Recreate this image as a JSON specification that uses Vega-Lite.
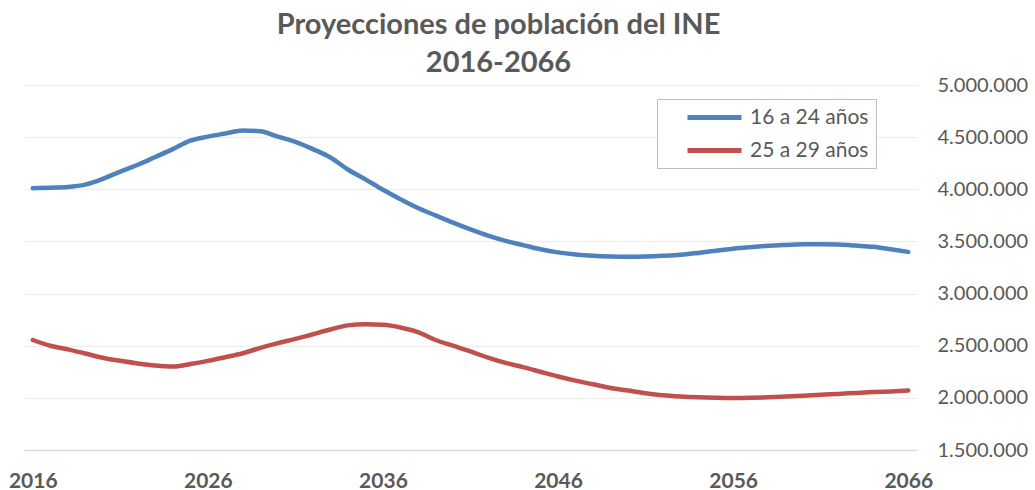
{
  "$schema": "https://vega.github.io/schema/vega-lite/v6.json",
  "width": 893,
  "height": 365,
  "autosize": {"type": "none"},
  "padding": {"left": 24, "top": 85, "right": 118, "bottom": 40},
  "background": "white",
  "title": {
    "text": ["Proyecciones de población del INE", "2016-2066"],
    "font": "Lato",
    "fontSize": 29,
    "fontWeight": "bold",
    "color": "#595959",
    "anchor": "middle",
    "frame": "group",
    "dx": 28,
    "lineHeight": 38,
    "offset": -3
  },
  "config": {
    "locale": {"number": {"decimal": ",", "thousands": ".", "grouping": [3], "currency": ["", " €"]}},
    "view": {"stroke": null},
    "font": "Lato"
  },
  "data": {
    "values": [
      {"year": 2016, "serie": "16 a 24 años", "valor": 4010000},
      {"year": 2017, "serie": "16 a 24 años", "valor": 4015000},
      {"year": 2018, "serie": "16 a 24 años", "valor": 4022000},
      {"year": 2019, "serie": "16 a 24 años", "valor": 4045000},
      {"year": 2020, "serie": "16 a 24 años", "valor": 4100000},
      {"year": 2021, "serie": "16 a 24 años", "valor": 4170000},
      {"year": 2022, "serie": "16 a 24 años", "valor": 4235000},
      {"year": 2023, "serie": "16 a 24 años", "valor": 4310000},
      {"year": 2024, "serie": "16 a 24 años", "valor": 4385000},
      {"year": 2025, "serie": "16 a 24 años", "valor": 4466000},
      {"year": 2026, "serie": "16 a 24 años", "valor": 4505000},
      {"year": 2027, "serie": "16 a 24 años", "valor": 4535000},
      {"year": 2028, "serie": "16 a 24 años", "valor": 4564000},
      {"year": 2029, "serie": "16 a 24 años", "valor": 4556000},
      {"year": 2030, "serie": "16 a 24 años", "valor": 4505000},
      {"year": 2031, "serie": "16 a 24 años", "valor": 4455000},
      {"year": 2032, "serie": "16 a 24 años", "valor": 4385000},
      {"year": 2033, "serie": "16 a 24 años", "valor": 4305000},
      {"year": 2034, "serie": "16 a 24 años", "valor": 4190000},
      {"year": 2035, "serie": "16 a 24 años", "valor": 4095000},
      {"year": 2036, "serie": "16 a 24 años", "valor": 3995000},
      {"year": 2037, "serie": "16 a 24 años", "valor": 3905000},
      {"year": 2038, "serie": "16 a 24 años", "valor": 3820000},
      {"year": 2039, "serie": "16 a 24 años", "valor": 3750000},
      {"year": 2040, "serie": "16 a 24 años", "valor": 3680000},
      {"year": 2041, "serie": "16 a 24 años", "valor": 3615000},
      {"year": 2042, "serie": "16 a 24 años", "valor": 3555000},
      {"year": 2043, "serie": "16 a 24 años", "valor": 3505000},
      {"year": 2044, "serie": "16 a 24 años", "valor": 3465000},
      {"year": 2045, "serie": "16 a 24 años", "valor": 3425000},
      {"year": 2046, "serie": "16 a 24 años", "valor": 3395000},
      {"year": 2047, "serie": "16 a 24 años", "valor": 3375000},
      {"year": 2048, "serie": "16 a 24 años", "valor": 3362000},
      {"year": 2049, "serie": "16 a 24 años", "valor": 3355000},
      {"year": 2050, "serie": "16 a 24 años", "valor": 3352000},
      {"year": 2051, "serie": "16 a 24 años", "valor": 3355000},
      {"year": 2052, "serie": "16 a 24 años", "valor": 3362000},
      {"year": 2053, "serie": "16 a 24 años", "valor": 3372000},
      {"year": 2054, "serie": "16 a 24 años", "valor": 3390000},
      {"year": 2055, "serie": "16 a 24 años", "valor": 3410000},
      {"year": 2056, "serie": "16 a 24 años", "valor": 3430000},
      {"year": 2057, "serie": "16 a 24 años", "valor": 3445000},
      {"year": 2058, "serie": "16 a 24 años", "valor": 3458000},
      {"year": 2059, "serie": "16 a 24 años", "valor": 3466000},
      {"year": 2060, "serie": "16 a 24 años", "valor": 3472000},
      {"year": 2061, "serie": "16 a 24 años", "valor": 3474000},
      {"year": 2062, "serie": "16 a 24 años", "valor": 3470000},
      {"year": 2063, "serie": "16 a 24 años", "valor": 3460000},
      {"year": 2064, "serie": "16 a 24 años", "valor": 3448000},
      {"year": 2065, "serie": "16 a 24 años", "valor": 3425000},
      {"year": 2066, "serie": "16 a 24 años", "valor": 3400000},
      {"year": 2016, "serie": "25 a 29 años", "valor": 2555000},
      {"year": 2017, "serie": "25 a 29 años", "valor": 2500000},
      {"year": 2018, "serie": "25 a 29 años", "valor": 2465000},
      {"year": 2019, "serie": "25 a 29 años", "valor": 2425000},
      {"year": 2020, "serie": "25 a 29 años", "valor": 2385000},
      {"year": 2021, "serie": "25 a 29 años", "valor": 2355000},
      {"year": 2022, "serie": "25 a 29 años", "valor": 2330000},
      {"year": 2023, "serie": "25 a 29 años", "valor": 2310000},
      {"year": 2024, "serie": "25 a 29 años", "valor": 2300000},
      {"year": 2025, "serie": "25 a 29 años", "valor": 2325000},
      {"year": 2026, "serie": "25 a 29 años", "valor": 2355000},
      {"year": 2027, "serie": "25 a 29 años", "valor": 2390000},
      {"year": 2028, "serie": "25 a 29 años", "valor": 2428000},
      {"year": 2029, "serie": "25 a 29 años", "valor": 2480000},
      {"year": 2030, "serie": "25 a 29 años", "valor": 2525000},
      {"year": 2031, "serie": "25 a 29 años", "valor": 2565000},
      {"year": 2032, "serie": "25 a 29 años", "valor": 2610000},
      {"year": 2033, "serie": "25 a 29 años", "valor": 2655000},
      {"year": 2034, "serie": "25 a 29 años", "valor": 2695000},
      {"year": 2035, "serie": "25 a 29 años", "valor": 2705000},
      {"year": 2036, "serie": "25 a 29 años", "valor": 2700000},
      {"year": 2037, "serie": "25 a 29 años", "valor": 2675000},
      {"year": 2038, "serie": "25 a 29 años", "valor": 2630000},
      {"year": 2039, "serie": "25 a 29 años", "valor": 2555000},
      {"year": 2040, "serie": "25 a 29 años", "valor": 2500000},
      {"year": 2041, "serie": "25 a 29 años", "valor": 2445000},
      {"year": 2042, "serie": "25 a 29 años", "valor": 2385000},
      {"year": 2043, "serie": "25 a 29 años", "valor": 2335000},
      {"year": 2044, "serie": "25 a 29 años", "valor": 2295000},
      {"year": 2045, "serie": "25 a 29 años", "valor": 2250000},
      {"year": 2046, "serie": "25 a 29 años", "valor": 2205000},
      {"year": 2047, "serie": "25 a 29 años", "valor": 2165000},
      {"year": 2048, "serie": "25 a 29 años", "valor": 2130000},
      {"year": 2049, "serie": "25 a 29 años", "valor": 2095000},
      {"year": 2050, "serie": "25 a 29 años", "valor": 2070000},
      {"year": 2051, "serie": "25 a 29 años", "valor": 2045000},
      {"year": 2052, "serie": "25 a 29 años", "valor": 2025000},
      {"year": 2053, "serie": "25 a 29 años", "valor": 2013000},
      {"year": 2054, "serie": "25 a 29 años", "valor": 2005000},
      {"year": 2055, "serie": "25 a 29 años", "valor": 2000000},
      {"year": 2056, "serie": "25 a 29 años", "valor": 1998000},
      {"year": 2057, "serie": "25 a 29 años", "valor": 2000000},
      {"year": 2058, "serie": "25 a 29 años", "valor": 2005000},
      {"year": 2059, "serie": "25 a 29 años", "valor": 2012000},
      {"year": 2060, "serie": "25 a 29 años", "valor": 2020000},
      {"year": 2061, "serie": "25 a 29 años", "valor": 2030000},
      {"year": 2062, "serie": "25 a 29 años", "valor": 2038000},
      {"year": 2063, "serie": "25 a 29 años", "valor": 2047000},
      {"year": 2064, "serie": "25 a 29 años", "valor": 2055000},
      {"year": 2065, "serie": "25 a 29 años", "valor": 2062000},
      {"year": 2066, "serie": "25 a 29 años", "valor": 2070000}
    ]
  },
  "mark": {"type": "line", "strokeWidth": 4.5, "strokeCap": "round", "strokeJoin": "round", "interpolate": "monotone"},
  "encoding": {
    "x": {
      "field": "year",
      "type": "quantitative",
      "scale": {"domain": [2015.5, 2066.5], "nice": false, "zero": false},
      "axis": {
        "title": null,
        "values": [2016, 2026, 2036, 2046, 2056, 2066],
        "format": "d",
        "grid": false,
        "ticks": false,
        "domain": true,
        "domainColor": "#d9d9d9",
        "domainWidth": 1.5,
        "labelFlush": false,
        "labelOverlap": false,
        "labelFont": "Lato",
        "labelFontSize": 21,
        "labelFontWeight": "bold",
        "labelColor": "#595959",
        "labelPadding": 20
      }
    },
    "y": {
      "field": "valor",
      "type": "quantitative",
      "scale": {"domain": [1500000, 5000000], "nice": false, "zero": false},
      "axis": {
        "title": null,
        "orient": "right",
        "values": [1500000, 2000000, 2500000, 3000000, 3500000, 4000000, 4500000, 5000000],
        "format": ",d",
        "grid": true,
        "gridColor": "#ececec",
        "gridWidth": 1.2,
        "ticks": false,
        "domain": false,
        "labelFont": "Lato",
        "labelFontSize": 20,
        "labelColor": "#595959",
        "labelAlign": "left",
        "labelPadding": 20
      }
    },
    "color": {
      "field": "serie",
      "type": "nominal",
      "scale": {"domain": ["16 a 24 años", "25 a 29 años"], "range": ["#4f81bd", "#c0504d"]},
      "legend": {
        "title": null,
        "orient": "none",
        "legendX": 633,
        "legendY": 14,
        "direction": "vertical",
        "strokeColor": "#bfbfbf",
        "fillColor": "white",
        "padding": 7,
        "symbolType": "M-3,0H3",
        "symbolSize": 324,
        "symbolStrokeWidth": 5,
        "symbolOffset": 39,
        "labelFont": "Lato",
        "labelFontSize": 21,
        "labelColor": "#595959",
        "labelOffset": 24,
        "rowPadding": 11
      }
    }
  }
}
